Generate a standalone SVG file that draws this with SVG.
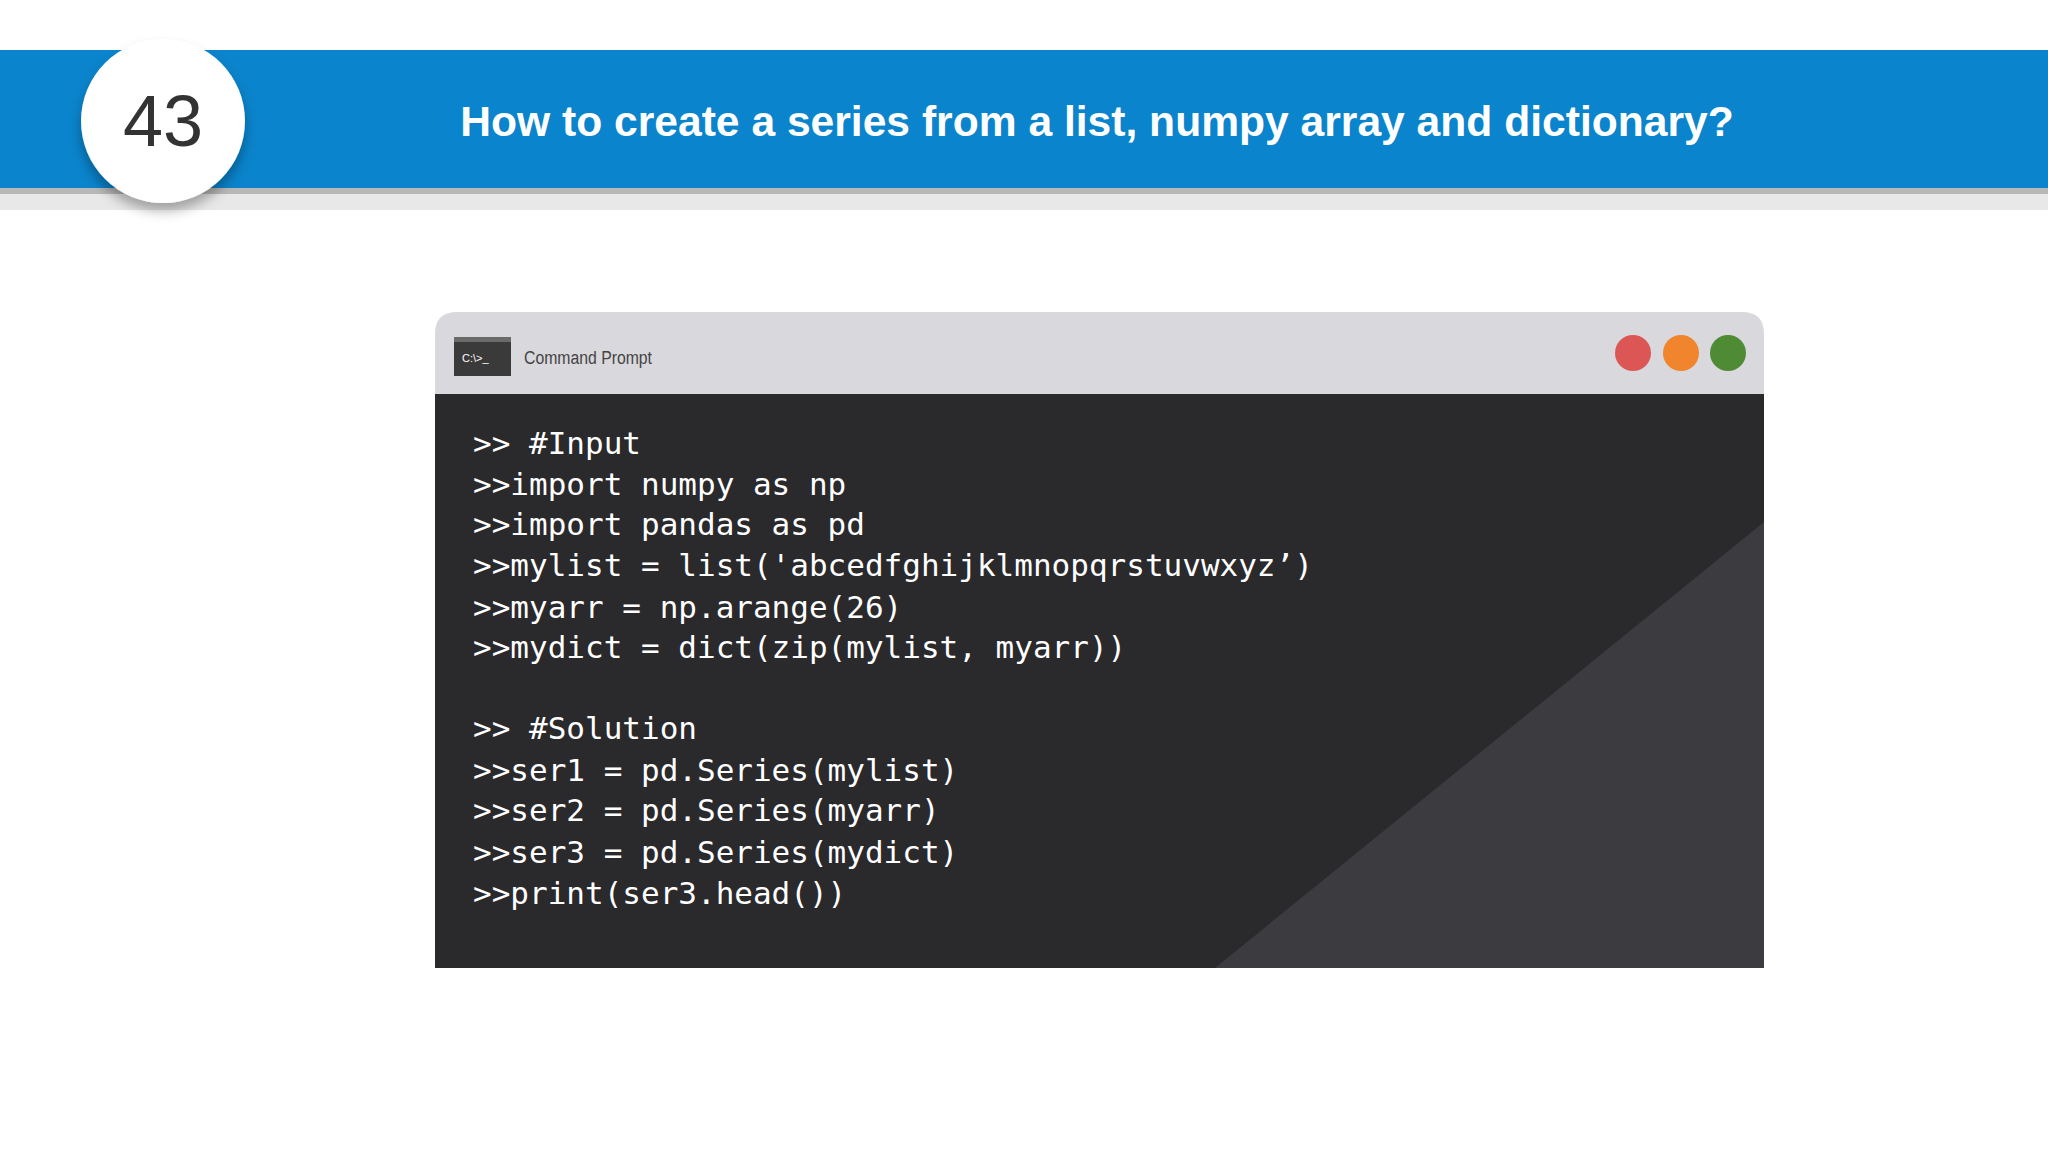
<svg xmlns="http://www.w3.org/2000/svg" width="2048" height="1152" viewBox="0 0 2048 1152">
<defs>
<style>
.code{font-family:"DejaVu Sans Mono",monospace;font-size:31px;fill:#ffffff}
</style>
<filter id="sh" x="-30%" y="-30%" width="160%" height="170%"><feDropShadow dx="0" dy="8" stdDeviation="6" flood-color="#000" flood-opacity="0.3"/></filter>
</defs>
<rect width="2048" height="1152" fill="#ffffff"/>
<g id="header">
<rect x="0" y="188" width="2048" height="22" fill="#e8e8e8"/>
<rect x="0" y="186" width="2048" height="8" fill="#b8b8b8"/>
<rect x="0" y="50" width="2048" height="138" fill="#0a84cc"/>
<text x="1097" y="136" text-anchor="middle" font-family="Liberation Sans,Arial,sans-serif" font-weight="bold" font-size="42.6" fill="#ffffff">How to create a series from a list, numpy array and dictionary?</text>
</g>
<g id="badge">
<circle cx="163" cy="121" r="82" fill="#ffffff" filter="url(#sh)"/>
<text x="163" y="146" text-anchor="middle" font-family="Liberation Sans,Arial,sans-serif" font-size="72" fill="#333333">43</text>
</g>
<g id="window">
<path d="M435 394 V334 Q435 312 457 312 H1742 Q1764 312 1764 334 V394 Z" fill="#d9d8dc"/>
<rect x="435" y="394" width="1329" height="574" fill="#2a292c"/>
<polygon points="1764,522 1764,968 1215,968" fill="#3c3b3f"/>
<rect x="454" y="337" width="57" height="39" fill="#3a3a3a"/>
<rect x="454" y="337" width="57" height="5" fill="#6a6a6a"/>
<text x="462" y="362" font-family="Liberation Sans,Arial,sans-serif" font-size="11" fill="#ffffff">C:\&gt;_</text>
<text x="524" y="364" font-family="Liberation Sans,Arial,sans-serif" font-size="18" fill="#444444" textLength="128" lengthAdjust="spacingAndGlyphs">Command Prompt</text>
<circle cx="1633" cy="353" r="18" fill="#dc5656"/>
<circle cx="1681" cy="353" r="18" fill="#f0852d"/>
<circle cx="1728" cy="353" r="18" fill="#4f8a34"/>
</g>
<g id="code" class="code">
<text x="473" y="454" class="code">&gt;&gt; #Input</text>
<text x="473" y="495" class="code">&gt;&gt;import numpy as np</text>
<text x="473" y="535" class="code">&gt;&gt;import pandas as pd</text>
<text x="473" y="576" class="code">&gt;&gt;mylist = list('abcedfghijklmnopqrstuvwxyz’)</text>
<text x="473" y="618" class="code">&gt;&gt;myarr = np.arange(26)</text>
<text x="473" y="658" class="code">&gt;&gt;mydict = dict(zip(mylist, myarr))</text>
<text x="473" y="739" class="code">&gt;&gt; #Solution</text>
<text x="473" y="781" class="code">&gt;&gt;ser1 = pd.Series(mylist)</text>
<text x="473" y="821" class="code">&gt;&gt;ser2 = pd.Series(myarr)</text>
<text x="473" y="863" class="code">&gt;&gt;ser3 = pd.Series(mydict)</text>
<text x="473" y="904" class="code">&gt;&gt;print(ser3.head())</text>
</g>
</svg>
